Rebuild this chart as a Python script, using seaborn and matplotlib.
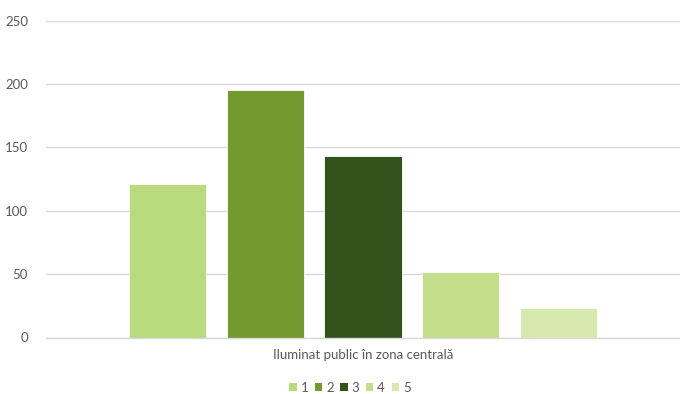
import matplotlib
matplotlib.use("Agg")
import matplotlib.pyplot as plt
from matplotlib.patches import Patch
import seaborn as sns
import pandas as pd

category = ["Iluminat public în zona centrală"]
series = ["1", "2", "3", "4", "5"]
values = [121, 195, 143, 52, 23]
colors = ["#B9DA7D", "#74992E", "#31521B", "#C2DE8A", "#D8E9B0"]
yticks = [0, 50, 100, 150, 200, 250]

df = pd.DataFrame({
    "categorie": category * len(series),
    "serie": series,
    "valoare": values,
})

sns.set_theme(style="white")
plt.rcParams["font.family"] = ["Lato", "DejaVu Sans"]

fig = plt.figure(figsize=(6.8, 3.94), dpi=100)
ax = fig.add_axes([46 / 680, 1 - 337.5 / 394, (680 - 46) / 680, (337.5 - 20.5) / 394])

sns.barplot(data=df, x="categorie", y="valoare", hue="serie",
            palette=colors, saturation=1, width=0.771, gap=0.212, ax=ax,
            edgecolor="white", linewidth=0.6, legend=False)

ax.set_xlim(-0.5, 0.5)
ax.set_ylim(0, 250)
ax.set_yticks(yticks)
ax.set_yticklabels([str(t) for t in yticks])
ax.set_xlabel("")
ax.set_ylabel("")
ax.yaxis.grid(True, color="#D9D9D9", linewidth=1.0)
ax.set_axisbelow(True)
for side in ["top", "right", "left"]:
    ax.spines[side].set_visible(False)
ax.spines["bottom"].set_color("#D9D9D9")
ax.spines["bottom"].set_linewidth(1.0)
ax.tick_params(axis="y", length=0, pad=13, labelsize=9.5, labelcolor="#595959")
ax.tick_params(axis="x", length=0, pad=8, labelsize=9.5, labelcolor="#595959")

handles = [Patch(facecolor=c, edgecolor="none") for c in colors]
fig.legend(handles, series, loc="center", bbox_to_anchor=(350 / 680, 1 - 388 / 394),
           ncol=5, frameon=False, handlelength=0.55, handleheight=0.55,
           handletextpad=0.3, columnspacing=0.5,
           prop={"size": 9.5}, labelcolor="#595959")

fig.savefig("out.png", dpi=100, facecolor="white")
